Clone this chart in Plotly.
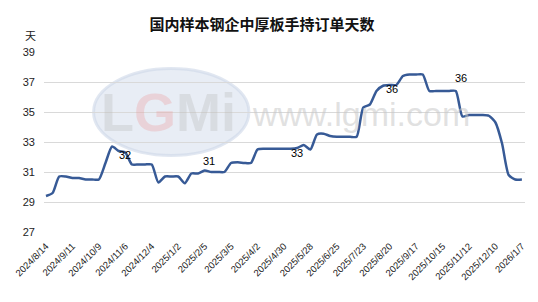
import plotly.graph_objects as go

dates = [
    "2024/8/14", "2024/8/21", "2024/8/28", "2024/9/4", "2024/9/11", "2024/9/18", "2024/9/25",
    "2024/10/2", "2024/10/9", "2024/10/16", "2024/10/23", "2024/10/30", "2024/11/6", "2024/11/13",
    "2024/11/20", "2024/11/27", "2024/12/4", "2024/12/11", "2024/12/18", "2024/12/25",
    "2025/1/2", "2025/1/8", "2025/1/15", "2025/1/22", "2025/2/5", "2025/2/12", "2025/2/19",
    "2025/2/26", "2025/3/5", "2025/3/12", "2025/3/19", "2025/3/26", "2025/4/2", "2025/4/9",
    "2025/4/16", "2025/4/23", "2025/4/30", "2025/5/7", "2025/5/14", "2025/5/21", "2025/5/28",
    "2025/6/4", "2025/6/11", "2025/6/18", "2025/6/25", "2025/7/2", "2025/7/9", "2025/7/16",
    "2025/7/23", "2025/7/30", "2025/8/6", "2025/8/13", "2025/8/20", "2025/8/27", "2025/9/3",
    "2025/9/10", "2025/9/17", "2025/9/24", "2025/10/1", "2025/10/8", "2025/10/15", "2025/10/22",
    "2025/10/29", "2025/11/5", "2025/11/12", "2025/11/19", "2025/11/26", "2025/12/3",
    "2025/12/10", "2025/12/17", "2025/12/24", "2025/12/31", "2026/1/7",
]

days = [
    29.4, 29.6, 30.7, 30.7, 30.6, 30.6, 30.5, 30.5, 30.5, 31.6,
    32.7, 32.4, 32.3, 31.5, 31.5, 31.5, 31.5, 30.3, 30.7, 30.7,
    30.7, 30.25, 30.9, 30.9, 31.1, 31.0, 31.0, 31.0, 31.6, 31.65,
    31.6, 31.6, 32.5, 32.55, 32.55, 32.55, 32.55, 32.55, 32.6, 32.8,
    32.5, 33.5, 33.55, 33.4, 33.35, 33.35, 33.35, 33.35, 35.3, 35.5,
    36.4, 36.75, 36.8, 36.8, 37.4, 37.5, 37.5, 37.5, 36.4, 36.4,
    36.4, 36.4, 36.4, 34.7, 34.8, 34.8, 34.8, 34.75, 34.3, 32.9,
    30.8, 30.5, 30.5,
]

tick_labels = dates[::4]
y_ticks = [27, 29, 31, 33, 35, 37, 39]

# point labels: text, x position (category index), y value
label_texts = ["32", "31", "33", "36", "36"]
label_x = [11.97, 24.7, 37.9, 52.3, 62.8]
label_y = [32.16, 31.71, 32.25, 36.56, 37.3]

fig = go.Figure()

# watermark ellipse
fig.add_shape(type="circle", xref="x", yref="y",
              x0=7.2, x1=30.7, y0=32.1, y1=37.9,
              fillcolor="rgba(205,215,232,0.45)", line=dict(color="rgba(205,215,232,0.6)", width=3),
              layer="below")
fig.add_annotation(x=18.6, y=35.0, xref="x", yref="y",
                   text=("<b><span style='color:rgba(185,185,185,0.6)'>L</span>"
                         "<span style='color:rgba(235,150,150,0.55)'>G</span>"
                         "<span style='color:rgba(185,185,185,0.6)'>Mi</span></b>"),
                   showarrow=False,
                   font=dict(family="Liberation Sans", size=54,
                             color="rgba(190,190,190,0.55)"))
fig.add_annotation(x=64.4, y=34.85, xref="x", yref="y", xanchor="right",
                   text="www.lgmi.com", showarrow=False,
                   font=dict(family="Liberation Sans", size=34,
                             color="rgba(200,200,200,0.55)"))

fig.add_trace(go.Scatter(
    x=dates, y=days, mode="lines",
    line=dict(color="#375a96", width=2.5, shape="spline", smoothing=0.6),
    hoverinfo="x+y", showlegend=False,
))

for t, xx, yy in zip(label_texts, label_x, label_y):
    fig.add_annotation(x=xx, y=yy, xref="x", yref="y", text=t, showarrow=False,
                       font=dict(family="Liberation Sans, Arial", size=11, color="#000000"))

fig.add_annotation(x=(30 - 44) / 481, y=(231.7 - 35) / 180, xref="paper", yref="paper",
                   text="天", showarrow=False, xanchor="center", yanchor="middle",
                   font=dict(family="Noto Sans CJK SC", size=11, color="#222222"))

fig.update_layout(
    width=538, height=302,
    margin=dict(l=44, r=13, t=52, b=70),
    paper_bgcolor="white", plot_bgcolor="white",
    title=dict(text="<b>国内样本钢企中厚板手持订单天数</b>", x=262 / 538, xanchor="center",
               y=1 - 25 / 302, yanchor="middle",
               font=dict(family="Noto Sans CJK SC", size=15, color="#111111")),
    xaxis=dict(type="category", range=[-0.3, 72.47], tickmode="array",
               tickvals=tick_labels, ticktext=tick_labels, tickangle=-45,
               tickfont=dict(family="Liberation Sans, Arial", size=9.5, color="#222222"),
               ticklabelstandoff=6,
               showgrid=False, showline=False, zeroline=False, ticks=""),
    yaxis=dict(range=[27, 39], tickvals=y_ticks, showgrid=True, gridcolor="#d9d9d9", gridwidth=1,
               zeroline=False, showline=False, ticks="", ticklabelstandoff=8,
               tickfont=dict(family="Liberation Sans, Arial", size=11, color="#222222")),
)

fig.write_html("out.html")
